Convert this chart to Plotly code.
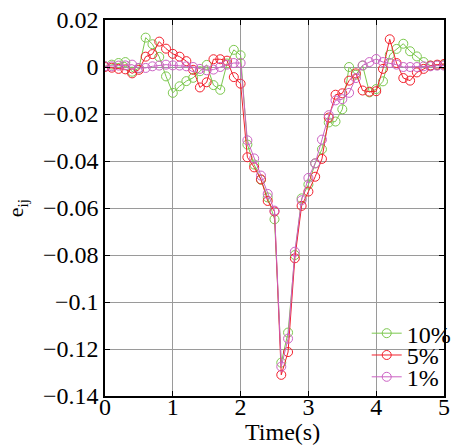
import plotly.graph_objects as go

# Sampling instants (s)
time_s = [0.0, 0.1, 0.2, 0.3, 0.4, 0.5, 0.6, 0.7, 0.8, 0.9,
          1.0, 1.1, 1.2, 1.3, 1.4, 1.5, 1.6, 1.7, 1.8, 1.9,
          2.0, 2.1, 2.2, 2.3, 2.4, 2.5, 2.6, 2.7, 2.8, 2.9,
          3.0, 3.1, 3.2, 3.3, 3.4, 3.5, 3.6, 3.7, 3.8, 3.9,
          4.0, 4.1, 4.2, 4.3, 4.4, 4.5, 4.6, 4.7, 4.8, 4.9, 5.0]

# Error e_ij for each noise level
err_10 = [0.0003, 0.0010, 0.0017, 0.0021, -0.0020, -0.0005, 0.0125, 0.0097, 0.0043, -0.0040,
          -0.0110, -0.0082, -0.0060, -0.0046, -0.0018, 0.0009, -0.0077, -0.0097, 0.0015, 0.0073,
          0.0050, -0.0330, -0.0415, -0.0480, -0.0555, -0.0648, -0.1258, -0.1130, -0.0800, -0.0559,
          -0.0500, -0.0410, -0.0350, -0.0236, -0.0232, -0.0180, 0.0000, -0.0033, 0.0006, -0.0108,
          -0.0094, -0.0061, 0.0052, 0.0077, 0.0099, 0.0067, 0.0045, 0.0021, 0.0006, 0.0008, 0.0010]

err_5 = [0.0000, -0.0003, -0.0008, -0.0010, -0.0027, -0.0012, 0.0044, 0.0055, 0.0108, 0.0078,
         0.0056, 0.0044, 0.0025, -0.0012, -0.0087, -0.0065, 0.0033, 0.0033, 0.0027, -0.0043,
         -0.0071, -0.0384, -0.0427, -0.0478, -0.0570, -0.0615, -0.1310, -0.1213, -0.0814, -0.0591,
         -0.0530, -0.0467, -0.0391, -0.0215, -0.0118, -0.0112, -0.0058, -0.0027, -0.0100, -0.0105,
         -0.0103, -0.0008, 0.0118, 0.0017, -0.0047, -0.0058, -0.0023, -0.0008, 0.0006, 0.0010, 0.0013]

err_1 = [0.0003, 0.0003, 0.0006, 0.0007, 0.0010, -0.0004, -0.0004, 0.0003, 0.0006, 0.0010,
         0.0007, 0.0006, 0.0003, 0.0000, -0.0008, -0.0014, -0.0011, 0.0000, 0.0010, 0.0017,
         0.0017, -0.0312, -0.0389, -0.0462, -0.0540, -0.0611, -0.1275, -0.1156, -0.0786, -0.0567,
         -0.0472, -0.0410, -0.0309, -0.0205, -0.0142, -0.0137, -0.0110, -0.0047, 0.0007, 0.0021,
         0.0034, 0.0021, 0.0017, 0.0010, 0.0000, 0.0000, 0.0000, 0.0003, 0.0003, 0.0006, 0.0006]

series_names = ["10%", "5%", "1%"]
series_colors = ["#7cc84e", "#f2202c", "#cc62c4"]

x_tickvals = [0, 1, 2, 3, 4, 5]
x_ticktext = ["0", "1", "2", "3", "4", "5"]
y_tickvals = [0.02, 0, -0.02, -0.04, -0.06, -0.08, -0.1, -0.12, -0.14]
y_ticktext = ["0.02", "0", "\u22120.02", "\u22120.04", "\u22120.06", "\u22120.08",
              "\u22120.1", "\u22120.12", "\u22120.14"]

FONT = "Liberation Serif"

fig = go.Figure()
legend_ids = ["legend", "legend2", "legend3"]
for ys, name, color, lg in zip([err_10, err_5, err_1], series_names, series_colors, legend_ids):
    fig.add_trace(go.Scatter(
        x=time_s, y=ys, name=name, mode="lines+markers",
        line=dict(color=color, width=1),
        marker=dict(symbol="circle-open", size=9, color=color, line=dict(width=1)),
        legend=lg,
    ))

axis_common = dict(
    showline=True, linecolor="black", linewidth=1.5, mirror="ticks",
    ticks="inside", ticklen=5, tickcolor="black", tickwidth=1,
    showgrid=True, gridcolor="#9a9a9a", gridwidth=1, zeroline=False,
    tickfont=dict(family=FONT, size=24, color="black"),
    automargin=False,
)

fig.update_xaxes(range=[0, 5], tickvals=x_tickvals, ticktext=x_ticktext,
                 ticklabelstandoff=-12, **axis_common)
fig.update_yaxes(range=[-0.14, 0.02], tickvals=y_tickvals, ticktext=y_ticktext,
                 title=dict(text="e<sub>ij</sub>", font=dict(family=FONT, size=22, color="black"), standoff=13),
                 **axis_common)

# x-axis title
fig.add_annotation(text="Time(s)", xref="paper", yref="paper", x=0.5, y=0,
                   xshift=8, yshift=-51, xanchor="center", yanchor="bottom",
                   showarrow=False, font=dict(family=FONT, size=24, color="black"))

legend_style = dict(font=dict(family=FONT, size=24, color="black"), bgcolor="rgba(0,0,0,0)",
                    borderwidth=0, itemwidth=30, xanchor="left", yanchor="middle", x=0.772)
fig.update_layout(
    width=462, height=448,
    margin=dict(l=105, r=6, t=20, b=52),
    plot_bgcolor="white", paper_bgcolor="white",
    font=dict(family=FONT),
    showlegend=True,
    legend=dict(y=0.166, **legend_style),
    legend2=dict(y=0.108, **legend_style),
    legend3=dict(y=0.050, **legend_style),
)

fig.write_html("out.html")
